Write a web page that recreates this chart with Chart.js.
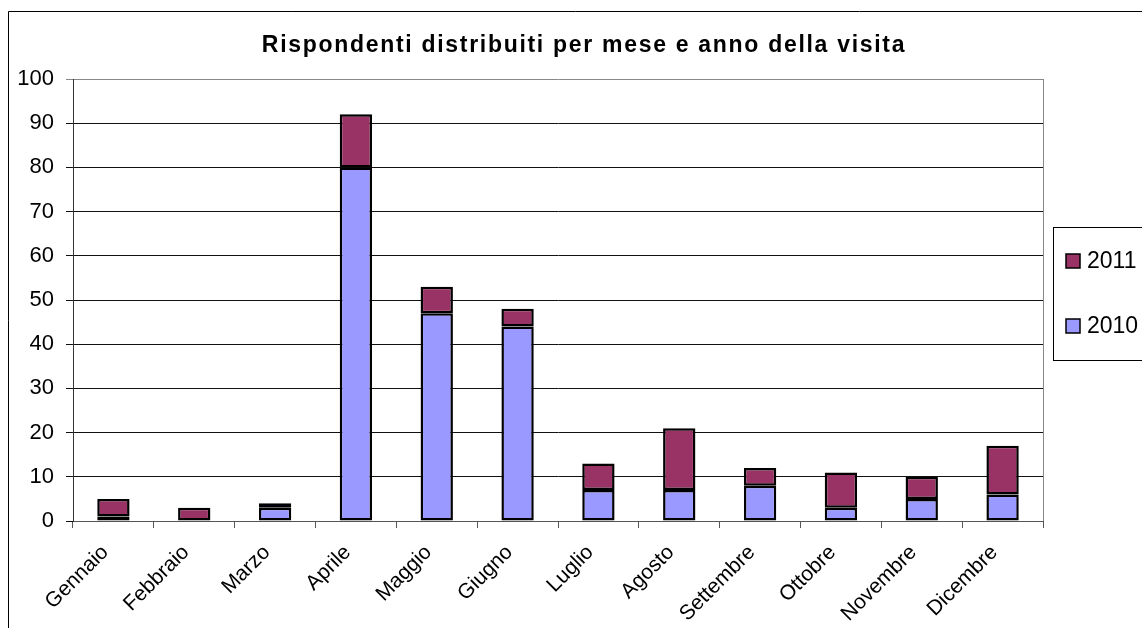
<!DOCTYPE html>
<html lang="it">
<head>
  <meta charset="UTF-8">
  <title>Rispondenti distribuiti per mese e anno della visita</title>
  <script src="https://cdn.jsdelivr.net/npm/chart.js"></script>
  <style>
    body { margin: 0; background: #fff; }
    canvas { display: block; }
  </style>
</head>
<body>
  <canvas id="visite" width="1142" height="628"></canvas>

  <script>
    const titolo = 'Rispondenti distribuiti per mese e anno della visita';
    const mesi = ['Gennaio', 'Febbraio', 'Marzo', 'Aprile', 'Maggio', 'Giugno',
                  'Luglio', 'Agosto', 'Settembre', 'Ottobre', 'Novembre', 'Dicembre'];
    const anno2010 = [1, 0, 3, 80, 47, 44, 7, 7, 8, 3, 5, 6];
    const anno2011 = [4, 3, 1, 12, 6, 4, 6, 14, 4, 8, 5, 11];
    const yTicks = [0, 10, 20, 30, 40, 50, 60, 70, 80, 90, 100];

    const FONT = 'Arial, "Liberation Sans", sans-serif';

    // outer frame, title, right edge of plot area, and the boxed legend
    const cornice = {
      id: 'cornice',
      beforeDraw(chart) {
        const c = chart.ctx;
        c.save();
        c.strokeStyle = '#000';
        c.lineWidth = 1;
        c.beginPath();
        c.moveTo(8.5, 700);
        c.lineTo(8.5, 11.5);
        c.lineTo(1200, 11.5);
        c.stroke();

        c.fillStyle = '#000';
        c.font = 'bold 23px ' + FONT;
        c.letterSpacing = '1.7px';
        c.textAlign = 'center';
        c.textBaseline = 'middle';
        c.fillText(titolo, 584, 46);
        c.restore();
      },
      afterDraw(chart) {
        const c = chart.ctx;
        const a = chart.chartArea;
        c.save();
        c.strokeStyle = '#888';
        c.lineWidth = 1;
        c.beginPath();
        c.moveTo(Math.round(a.right) + 0.5, a.top);
        c.lineTo(Math.round(a.right) + 0.5, a.bottom);
        c.stroke();

        // legend box
        c.strokeStyle = '#000';
        c.strokeRect(1053.5, 227.5, 120, 133);
        const items = chart.data.datasets.slice().reverse();
        c.font = '23px ' + FONT;
        c.textBaseline = 'middle';
        items.forEach((ds, i) => {
          const y = 261 + i * 65;
          c.fillStyle = ds.backgroundColor;
          c.fillRect(1066, y - 7, 14, 14);
          c.strokeStyle = '#000';
          c.lineWidth = 1.5;
          c.strokeRect(1066, y - 7, 14, 14);
          c.fillStyle = '#000';
          c.fillText(ds.label, 1087, y + 1);
        });
        c.restore();
      }
    };

    new Chart(document.getElementById('visite').getContext('2d'), {
      type: 'bar',
      data: {
        labels: mesi,
        datasets: [
          {
            label: '2010',
            data: anno2010,
            backgroundColor: '#9999FF',
            borderColor: '#000',
            borderWidth: 2.5,
            borderSkipped: false,
            barPercentage: 0.4,
            categoryPercentage: 1
          },
          {
            label: '2011',
            data: anno2011,
            backgroundColor: '#993366',
            borderColor: '#000',
            borderWidth: 2.5,
            borderSkipped: false,
            barPercentage: 0.4,
            categoryPercentage: 1
          }
        ]
      },
      options: {
        responsive: false,
        animation: false,
        layout: { padding: { left: 8, right: 99, top: 79, bottom: 0 } },
        plugins: {
          legend: { display: false },
          tooltip: { enabled: false },
          title: { display: false }
        },
        scales: {
          x: {
            stacked: true,
            grid: {
              display: true,
              drawOnChartArea: false,
              offset: true,
              tickLength: 7,
              color: '#555'
            },
            border: { color: '#555', width: 1 },
            ticks: {
              color: '#000',
              font: { family: FONT, size: 21 },
              minRotation: 45,
              maxRotation: 45,
              padding: 4,
              callback(v) { return this.getLabelForValue(v) + '  '; }
            },
            afterFit(scale) { scale.height = 107; }
          },
          y: {
            stacked: true,
            min: 0,
            max: 100,
            afterBuildTicks(scale) { scale.ticks = yTicks.map(v => ({ value: v })); },
            grid: {
              color: ctx => ctx.tick && ctx.tick.value === 100 ? '#888' : '#111',
              tickLength: 7,
              lineWidth: 1
            },
            border: { color: '#333', width: 1 },
            ticks: {
              color: '#000',
              font: { family: FONT, size: 22 },
              padding: 12
            },
            afterFit(scale) { scale.width = 65; }
          }
        }
      },
      plugins: [cornice]
    });
  </script>
</body>
</html>
